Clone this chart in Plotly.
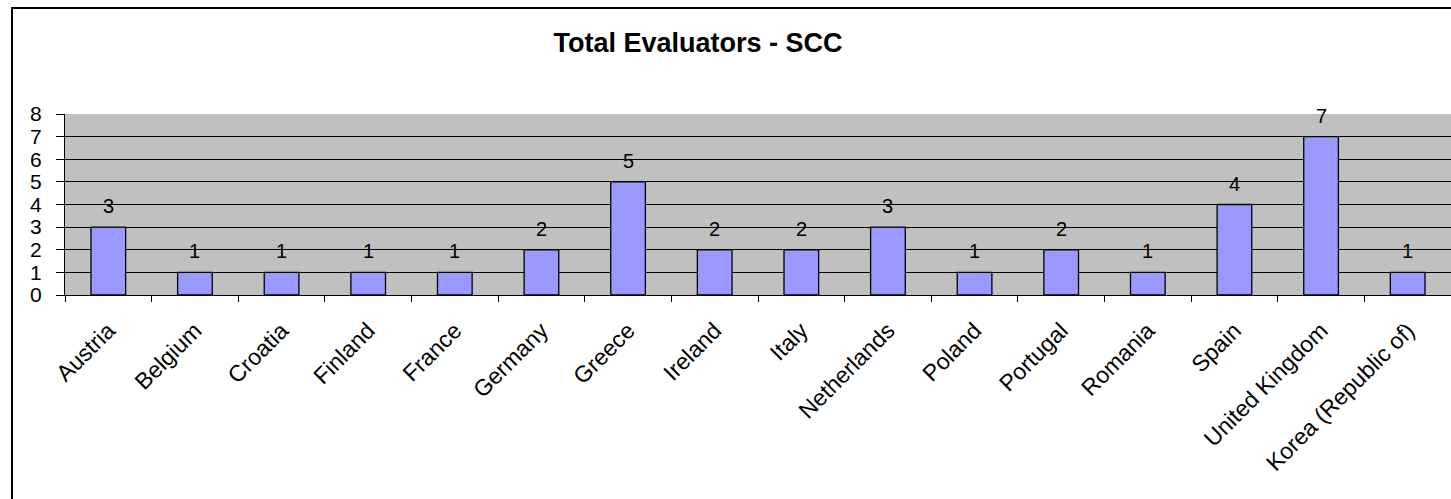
import plotly.graph_objects as go

# data
countries = ["Austria", "Belgium", "Croatia", "Finland", "France", "Germany", "Greece",
             "Ireland", "Italy", "Netherlands", "Poland", "Portugal", "Romania", "Spain",
             "United Kingdom", "Korea (Republic of)"]
evaluators = [3, 1, 1, 1, 1, 2, 5, 2, 2, 3, 1, 2, 1, 4, 7, 1]
y_ticks = [0, 1, 2, 3, 4, 5, 6, 7, 8]

font_family = "Liberation Sans, Arial, sans-serif"

fig = go.Figure()

fig.add_trace(go.Bar(
    x = countries,
    y = evaluators,
    marker = dict(color = "#9999FF", line = dict(color = "#000000", width = 1.3)),
    width = 0.4,
    showlegend = False,
))

# value labels above the bars
for c, v in zip(countries, evaluators):
    fig.add_annotation(
        x = c, y = v,
        text = str(v),
        showarrow = False,
        yanchor = "bottom",
        yshift = 8,
        font = dict(family = font_family, size = 20, color = "#000000"),
    )

fig.update_layout(
    width = 1451,
    height = 499,
    margin = dict(l = 65, r = 0, t = 114, b = 204, autoexpand = False),
    paper_bgcolor = "#FFFFFF",
    plot_bgcolor = "#C0C0C0",
    font = dict(family = font_family, color = "#000000"),
    title = dict(
        text = "<b>Total Evaluators - SCC</b>",
        x = 698 / 1451, xanchor = "center",
        y = 1 - 43 / 499, yanchor = "middle",
        font = dict(family = font_family, size = 27, color = "#000000"),
    ),
    bargap = 0.6,
)

# outer chart border (extends past the right and bottom edges)
fig.add_shape(
    type = "rect", xref = "paper", yref = "paper",
    x0 = (12 - 65) / 1386, x1 = 1.05,
    y0 = -1.5, y1 = (295 - 8) / 181,
    line = dict(color = "#000000", width = 2),
    fillcolor = "rgba(0,0,0,0)",
    layer = "below",
)

fig.update_xaxes(
    range = [-0.5, 15.5],
    tickangle = -45,
    tickson = "boundaries",
    ticks = "outside",
    ticklen = 6,
    tickcolor = "#000000",
    showgrid = False,
    showline = True,
    linecolor = "#000000",
    ticklabelstandoff = 12,
    tickfont = dict(family = font_family, size = 23, color = "#000000"),
)

fig.update_yaxes(
    range = [0, 8],
    tickvals = y_ticks,
    ticks = "outside",
    ticklen = 8,
    tickcolor = "#000000",
    showgrid = True,
    gridcolor = "#000000",
    gridwidth = 1,
    zeroline = False,
    showline = True,
    linecolor = "#000000",
    ticklabelstandoff = 10,
    tickfont = dict(family = font_family, size = 21, color = "#000000"),
)

fig.write_html("out.html", config = {"displayModeBar": False},
               post_script = "document.body.style.margin = '0';")
